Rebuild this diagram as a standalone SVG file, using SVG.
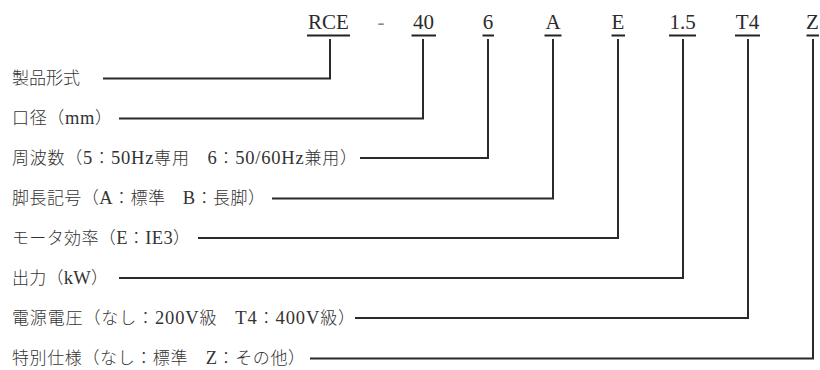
<svg xmlns="http://www.w3.org/2000/svg" width="820" height="370" viewBox="0 0 820 370">
<style>
.code{font-family:"Liberation Serif","Noto Sans CJK JP",serif;font-size:21px;fill:#2b2b2b;text-anchor:middle}
.lbl{font-family:"Liberation Serif","Noto Sans CJK JP",serif;font-size:17px;fill:#333;font-weight:300}
.lt{font-size:18.5px}
.ul{stroke:#222;stroke-width:2}
.con{fill:none;stroke:#2a2a2a;stroke-width:2}
</style>
<rect width="820" height="370" fill="#fff"/>
<g id="codes">
<text class="code" x="328.5" y="29">RCE</text>
<text class="code" x="381" y="29" style="fill:#888">-</text>
<text class="code" x="423.5" y="29">40</text>
<text class="code" x="488" y="29">6</text>
<text class="code" x="553" y="29">A</text>
<text class="code" x="618" y="29">E</text>
<text class="code" x="682.5" y="29">1.5</text>
<text class="code" x="747.5" y="29">T4</text>
<text class="code" x="812.5" y="29">Z</text>
<line class="ul" x1="307" y1="35.5" x2="350" y2="35.5"/>
<line class="ul" x1="411.5" y1="35.5" x2="436" y2="35.5"/>
<line class="ul" x1="482.5" y1="35.5" x2="494" y2="35.5"/>
<line class="ul" x1="544.5" y1="35.5" x2="561.5" y2="35.5"/>
<line class="ul" x1="611.5" y1="35.5" x2="625" y2="35.5"/>
<line class="ul" x1="669" y1="35.5" x2="696" y2="35.5"/>
<line class="ul" x1="735" y1="35.5" x2="760" y2="35.5"/>
<line class="ul" x1="806.5" y1="35.5" x2="819" y2="35.5"/>
</g>
<g id="n1"><text class="lbl" x="12" y="84">製品形式</text></g>
<g id="n2"><text class="lbl" x="12" y="124" textLength="100" lengthAdjust="spacing">口径（<tspan class="lt">mm</tspan>）</text></g>
<g id="n3"><text class="lbl" x="12" y="163.5" textLength="345" lengthAdjust="spacing">周波数（<tspan class="lt">5</tspan>：<tspan class="lt">50Hz</tspan>専用　<tspan class="lt">6</tspan>：<tspan class="lt">50/60Hz</tspan>兼用）</text></g>
<g id="n4"><text class="lbl" x="12" y="204" textLength="253" lengthAdjust="spacing">脚長記号（<tspan class="lt">A</tspan>：標準　<tspan class="lt">B</tspan>：長脚）</text></g>
<g id="n5"><text class="lbl" x="12" y="243.5" textLength="178" lengthAdjust="spacing">モータ効率（<tspan class="lt">E</tspan>：<tspan class="lt">IE3</tspan>）</text></g>
<g id="n6"><text class="lbl" x="12" y="283.5" textLength="96" lengthAdjust="spacing">出力（<tspan class="lt">kW</tspan>）</text></g>
<g id="n7"><text class="lbl" x="12" y="323.5" textLength="343" lengthAdjust="spacing">電源電圧（なし：<tspan class="lt">200V</tspan>級　<tspan class="lt">T4</tspan>：<tspan class="lt">400V</tspan>級）</text></g>
<g id="n8"><text class="lbl" x="12" y="364" textLength="293" lengthAdjust="spacing">特別仕様（なし：標準　<tspan class="lt">Z</tspan>：その他）</text></g>
<g id="connectors">
<polyline class="con" points="103,78.5 330,78.5 330,39"/>
<polyline class="con" points="119,118.5 423,118.5 423,39"/>
<polyline class="con" points="360,158 488,158 488,39"/>
<polyline class="con" points="272,198.5 553,198.5 553,39"/>
<polyline class="con" points="198,238 618,238 618,39"/>
<polyline class="con" points="119,278 683,278 683,39"/>
<polyline class="con" points="355,318 748,318 748,39"/>
<polyline class="con" points="310,358.5 813,358.5 813,39"/>
</g>
</svg>
